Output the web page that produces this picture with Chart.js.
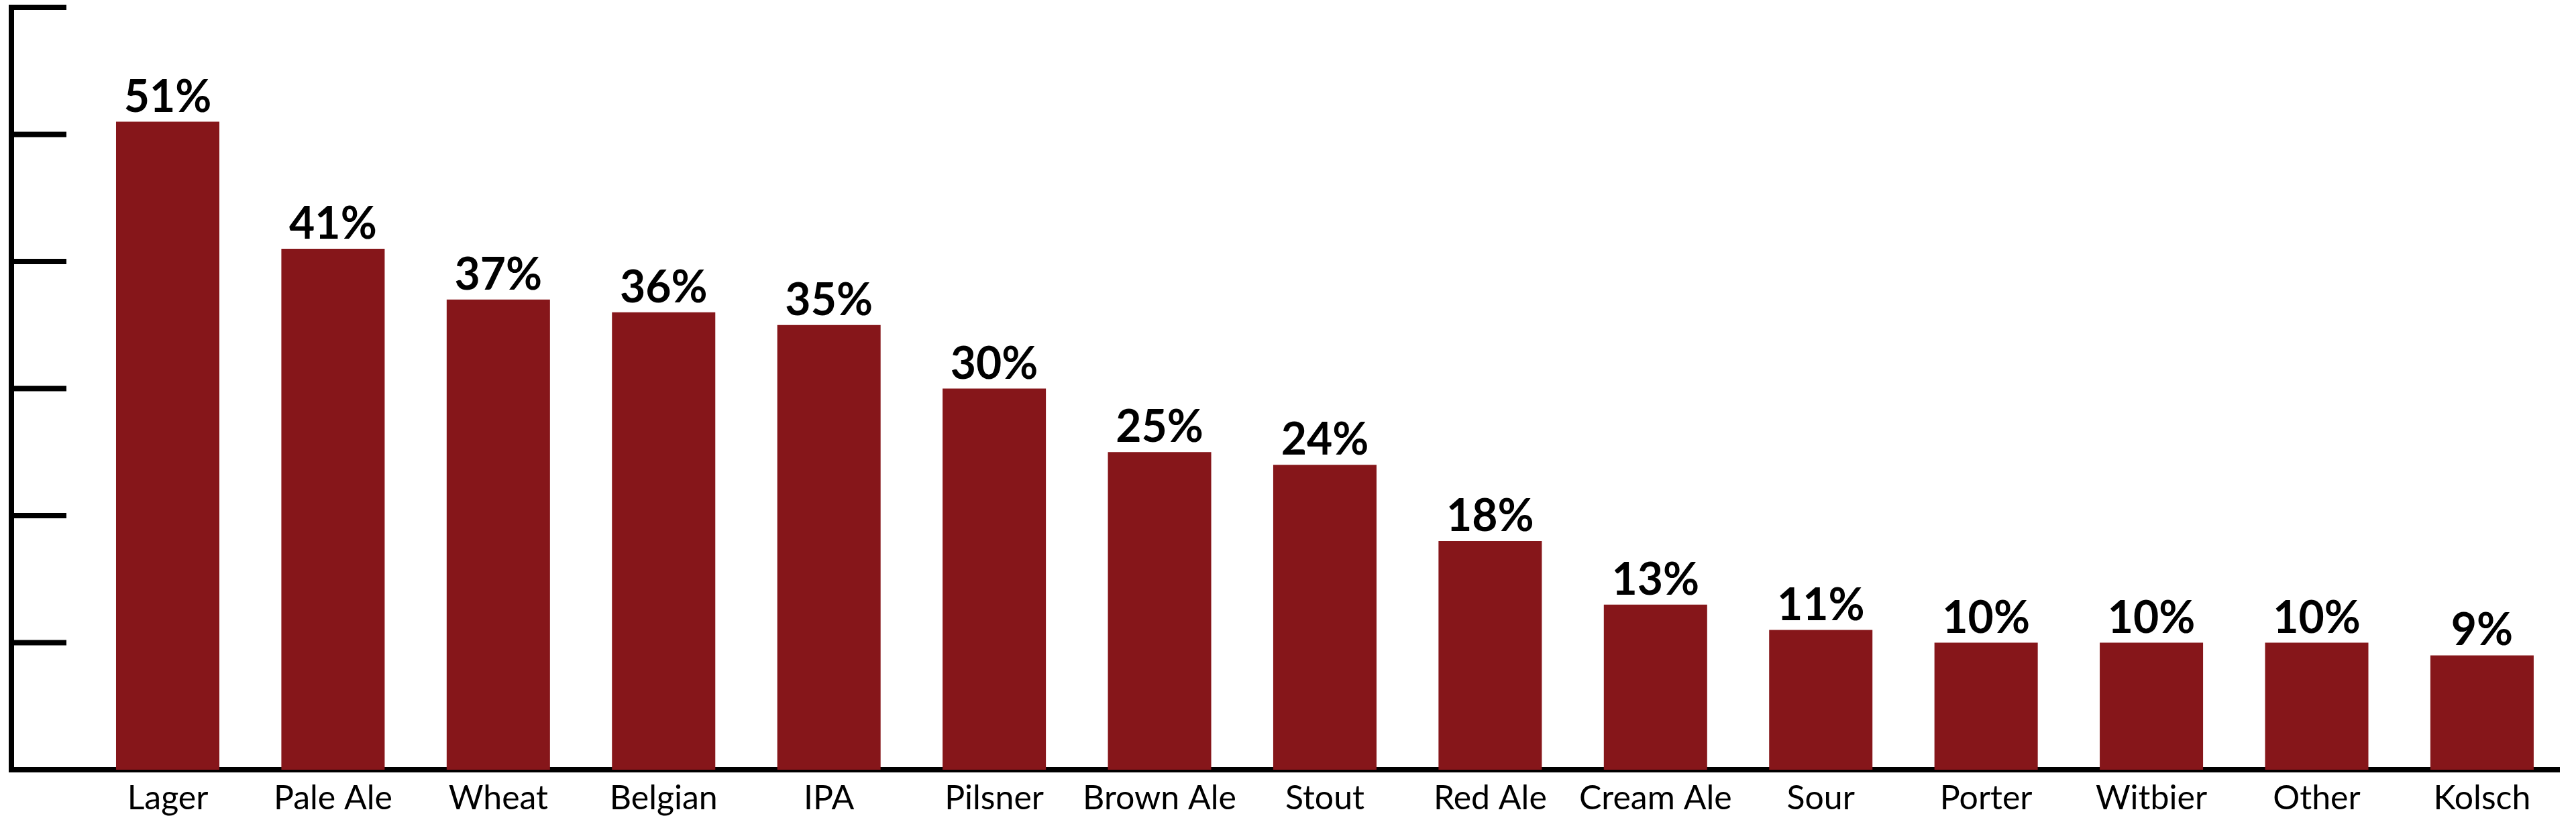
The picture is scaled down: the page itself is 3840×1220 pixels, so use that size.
<!DOCTYPE html>
<html>
<head>
<meta charset="utf-8">
<script src="https://cdn.jsdelivr.net/npm/chart.js@4.4.1/dist/chart.umd.min.js"></script>
<style>
  html, body { margin: 0; padding: 0; background: #fff; }
  #wrap { width: 3840px; height: 1220px; position: relative; }
</style>
</head>
<body>
<div id="wrap"><canvas id="myChart"></canvas></div>
<script>
var categories = ['Lager', 'Pale Ale', 'Wheat', 'Belgian', 'IPA', 'Pilsner', 'Brown Ale', 'Stout',
                  'Red Ale', 'Cream Ale', 'Sour', 'Porter', 'Witbier', 'Other', 'Kolsch'];
var shares = [51, 41, 37, 36, 35, 30, 25, 24, 18, 13, 11, 10, 10, 10, 9];
var yTicks = [0, 10, 20, 30, 40, 50, 60];

var barColor = '#86161A';

// tick marks point inward from the y axis
var innerTicks = {
    id: 'innerTicks',
    afterDraw: function (chart) {
        var ctx = chart.ctx;
        var y = chart.scales.y;
        var left = chart.chartArea.left;
        ctx.save();
        ctx.strokeStyle = '#000';
        ctx.lineWidth = 8;
        yTicks.forEach(function (v) {
            if (v === 0) return;
            var py = y.getPixelForValue(v);
            ctx.beginPath();
            ctx.moveTo(left - 4, py);
            ctx.lineTo(99, py);
            ctx.stroke();
        });
        ctx.restore();
    }
};

// percentage labels above the bars
var valueLabels = {
    id: 'valueLabels',
    afterDatasetsDraw: function (chart) {
        var ctx = chart.ctx;
        var meta = chart.getDatasetMeta(0);
        ctx.save();
        ctx.fillStyle = '#000';
        ctx.font = 'bold 66px Lato';
        ctx.textAlign = 'center';
        ctx.textBaseline = 'alphabetic';
        meta.data.forEach(function (bar, i) {
            ctx.fillText(shares[i] + '%', bar.x, bar.y - 15);
        });
        ctx.restore();
    }
};

var ctx = document.getElementById('myChart').getContext('2d');

var chart = new Chart(ctx, {
    type: 'bar',
    data: {
        datasets: [{
            label: 'Share',
            backgroundColor: barColor,
            borderWidth: 0,
            categoryPercentage: 1,
            barPercentage: 0.625,
            data: shares.map(function (v, i) { return { x: i, y: v }; })
        }]
    },
    options: {
        responsive: true,
        maintainAspectRatio: false,
        animation: false,
        devicePixelRatio: 1,
        layout: { padding: { top: 11, right: 25, bottom: 0, left: 0 } },
        plugins: {
            legend: { display: false },
            tooltip: { enabled: false }
        },
        scales: {
            x: {
                type: 'linear',
                offset: false,
                min: -0.9455,
                max: 14.467,
                z: 1,
                grid: { display: false, drawTicks: false },
                border: { display: true, color: '#000', width: 8 },
                afterBuildTicks: function (s) {
                    s.ticks = categories.map(function (c, i) { return { value: i }; });
                },
                afterFit: function (s) { s.height = 72; },
                ticks: {
                    autoSkip: false,
                    maxRotation: 0,
                    minRotation: 0,
                    padding: 13,
                    color: '#000',
                    font: { family: 'Lato', size: 50 },
                    callback: function (v) { return categories[v] || ''; }
                }
            },
            y: {
                min: 0,
                max: 60,
                z: 1,
                grid: { display: false, drawTicks: false },
                border: { display: true, color: '#000', width: 8 },
                afterBuildTicks: function (s) {
                    s.ticks = yTicks.map(function (v) { return { value: v }; });
                },
                afterFit: function (s) { s.width = 17; },
                ticks: { display: false }
            }
        }
    },
    plugins: [innerTicks, valueLabels]
});
</script>
</body>
</html>
